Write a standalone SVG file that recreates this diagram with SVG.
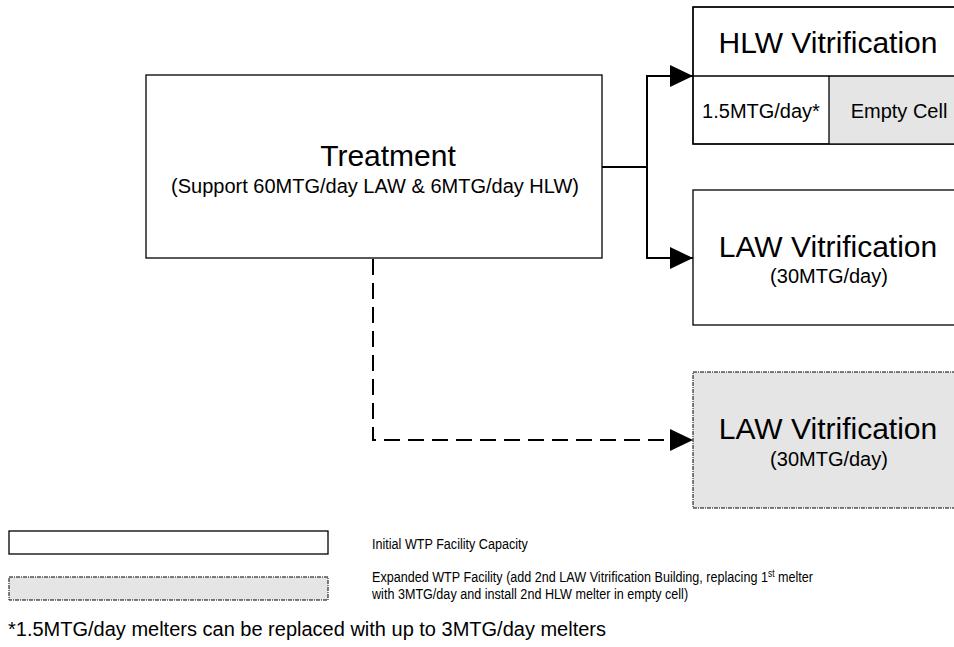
<svg xmlns="http://www.w3.org/2000/svg" width="954" height="647" viewBox="0 0 954 647">
<style>
text{font-family:"Liberation Sans",Arial,sans-serif;fill:#000}
.box{fill:#fff;stroke:#000;stroke-width:1.3}
.exp{fill:#e5e5e5;stroke:#000;stroke-width:1;stroke-dasharray:4,1,1,1}
.big{font-size:30px;text-anchor:middle}
.sub{font-size:20px;text-anchor:middle}
.leg{font-size:15px}
.conn{fill:none;stroke:#000;stroke-width:2}
.dash{stroke-dasharray:16,8}
</style>
<defs>
<marker id="arr" markerUnits="userSpaceOnUse" markerWidth="24" markerHeight="24" refX="23" refY="11" orient="auto">
<path d="M0,0 L23,11 L0,22 Z" fill="#000"/>
</marker>
</defs>
<rect width="954" height="647" fill="#fff"/>
<g id="treatment">
<rect class="box" x="146" y="75" width="456" height="183"/>
<text class="big" x="388" y="166">Treatment</text>
<text class="sub" x="375" y="193">(Support 60MTG/day LAW &amp; 6MTG/day HLW)</text>
</g>
<g id="hlw">
<rect class="box" x="693" y="7" width="277" height="137"/>
<rect x="829" y="76" width="141" height="68" fill="#e5e5e5"/>
<path d="M693,76 H970 M829,76 V144" stroke="#000" stroke-width="1.3"/>
<rect x="693" y="7" width="277" height="137" fill="none" stroke="#000" stroke-width="1.3"/>
<text class="big" x="828" y="53">HLW Vitrification</text>
<text class="sub" x="761" y="118">1.5MTG/day*</text>
<text class="sub" x="899" y="118">Empty Cell</text>
</g>
<g id="law1">
<rect class="box" x="693" y="190" width="277" height="135"/>
<text class="big" x="828" y="257">LAW Vitrification</text>
<text class="sub" x="829" y="283">(30MTG/day)</text>
</g>
<g id="law2">
<rect class="exp" x="693" y="372" width="277" height="136"/>
<text class="big" x="828" y="439">LAW Vitrification</text>
<text class="sub" x="829" y="466">(30MTG/day)</text>
</g>
<g id="connectors">
<path class="conn" d="M602,167 H647"/>
<path class="conn" d="M647,167 V76 H693" marker-end="url(#arr)"/>
<path class="conn" d="M647,167 V258 H693" marker-end="url(#arr)"/>
<path class="conn dash" d="M373,259 V440 H693" marker-end="url(#arr)"/>
</g>
<g id="legend">
<rect class="box" x="9" y="531" width="319" height="23"/>
<rect class="exp" x="9" y="577" width="319" height="23"/>
<g transform="translate(372,0) scale(0.84,1)">
<text class="leg" x="0" y="549">Initial WTP Facility Capacity</text>
<text class="leg" x="0" y="582">Expanded WTP Facility (add 2nd LAW Vitrification Building, replacing 1<tspan font-size="10" baseline-shift="super">st</tspan> melter</text>
<text class="leg" x="0" y="599">with 3MTG/day and install 2nd HLW melter in empty cell)</text>
</g>
<text x="8" y="636" font-size="20">*1.5MTG/day melters can be replaced with up to 3MTG/day melters</text>
</g>
</svg>
